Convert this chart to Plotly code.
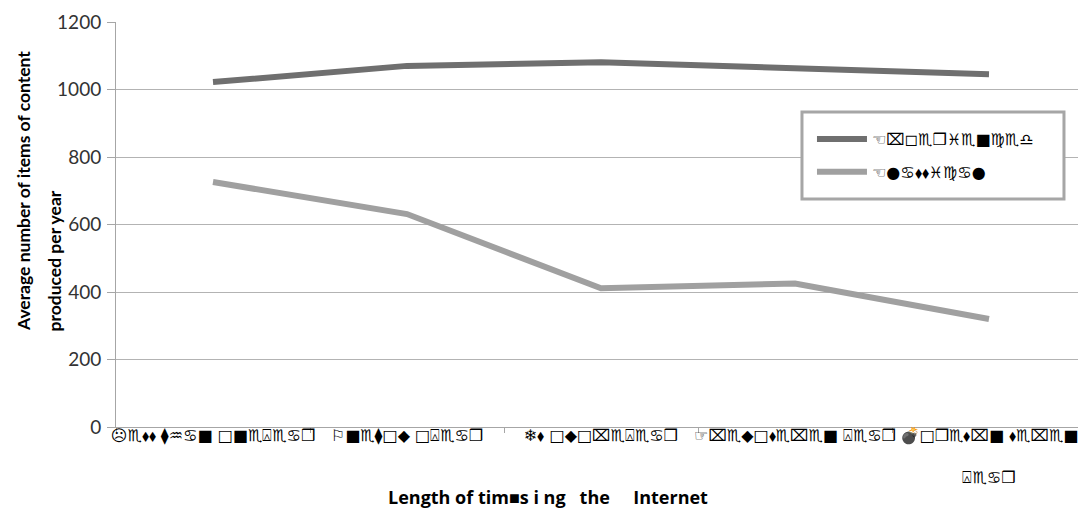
import plotly.graph_objects as go

categories = ["☹♏⬧⬧ ⧫♒♋■ □■♏⍓♏♋❒", "⚐■♏⧫□◆ □⍓♏♋❒", "❄⬧ □◆□⌧♏⍓♏♋❒", "☞⌧♏◆□⬧♏⌧♏■ ⍓♏♋❒", "💣□❒♏⬧⌧■ ⬧♏⌧♏■<br><br>⍓♏♋❒"]
series_names = ["☜⌧◻♏❒♓♏■♍♏♎", "☜●♋⬧⬧♓♍♋●"]
experienced = [1022, 1070, 1081, 1062, 1045]
newer = [726, 631, 411, 425, 320]
y_ticks = [0, 200, 400, 600, 800, 1000, 1200]

fig = go.Figure()
fig.add_trace(go.Scatter(x=categories, y=experienced, mode="lines", name=series_names[0],
                         legendgroup="a", line=dict(color="#6f6f6f", width=6)))
fig.add_trace(go.Scatter(x=categories, y=newer, mode="lines", name=series_names[1],
                         legendgroup="b", line=dict(color="#a0a0a0", width=6)))

# legend frame
fig.add_shape(type="rect", xref="paper", yref="paper",
              x0=0.7072, x1=0.9773, y0=0.563, y1=0.7778,
              line=dict(color="#a6a6a6", width=3), fillcolor="white", layer="above")

fig.update_layout(
    width=1078, height=500,
    margin=dict(l=108, r=0, t=14, b=81),
    paper_bgcolor="white", plot_bgcolor="white",
    font=dict(family="Lato, DejaVu Sans", color="#222222"),
    showlegend=True,
    legend=dict(x=0.7175, y=0.753, xanchor="left", yanchor="top",
                borderwidth=0, bgcolor="rgba(0,0,0,0)",
                font=dict(size=16, family="DejaVu Sans", color="black"),
                itemwidth=50, tracegroupgap=9),
)
fig.update_xaxes(
    type="category", range=[-0.5, 4.5],
    showgrid=False, showline=True, linecolor="#a6a6a6", linewidth=1,
    ticks="outside", tickson="boundaries", ticklen=5, tickcolor="#a6a6a6",
    tickfont=dict(size=16, family="DejaVu Sans", color="black"),
    tickangle=0, ticklabelstandoff=-6,
)
fig.update_yaxes(
    range=[0, 1200], tickvals=y_ticks,
    showgrid=True, gridcolor="#b3b3b3", gridwidth=1,
    showline=True, linecolor="#a6a6a6", linewidth=1,
    ticks="outside", ticklen=8, tickcolor="#a6a6a6", ticklabelstandoff=2,
    tickfont=dict(size=19, family="Lato", color="#333333"),
    zeroline=False,
)
ytitle_font = dict(size=17.5, family="Lato", weight="bold", color="black")
fig.add_annotation(
    text="Average number of items of content",
    xref="paper", yref="paper", x=-0.0959, y=0.232, xanchor="center", yanchor="bottom",
    textangle=-90, showarrow=False, font=ytitle_font,
)
fig.add_annotation(
    text="produced per year",
    xref="paper", yref="paper", x=-0.0629, y=0.232, xanchor="center", yanchor="bottom",
    textangle=-90, showarrow=False, font=ytitle_font,
)
fig.add_annotation(
    text="Length of tim■s i ng   the     Internet",
    xref="paper", yref="paper", x=0.445, y=-0.173, xanchor="center", yanchor="middle",
    showarrow=False, font=dict(size=18, family="Open Sans", weight="bold", color="black"),
)
fig.write_html("out.html")
